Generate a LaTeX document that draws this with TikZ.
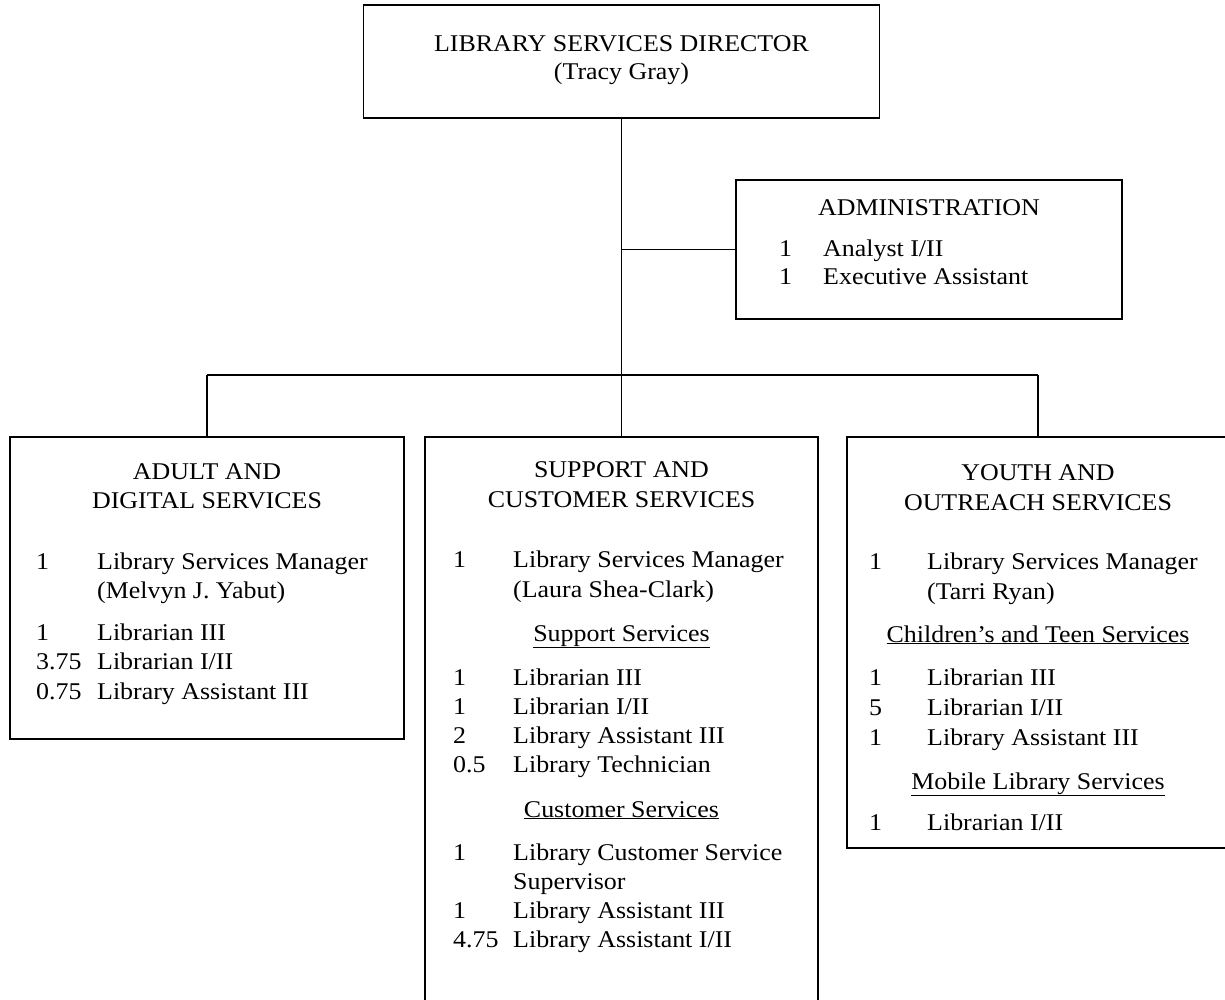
\documentclass[tikz,border=0pt]{standalone}
\usepackage{fontspec}
\setmainfont{Liberation Serif}[FakeStretch=1.08]
\begin{document}
\begin{tikzpicture}[x=1pt,y=-1pt,
  box/.style={draw,line width=1.1pt,inner sep=0pt,rectangle},
  conn/.style={line width=1.3pt},
  txt/.style={anchor=base west,inner sep=0pt,font=\fontsize{24}{29}\selectfont},
  ctr/.style={anchor=base,inner sep=0pt,font=\fontsize{24}{29}\selectfont}]
\useasboundingbox (0,0) rectangle (1225,1000);
\clip (0,0) rectangle (1225,1000);

% boxes
\node[box,minimum width=516pt,minimum height=113pt] (dir) at (621.5,61.5) {};
\node[box,minimum width=386pt,minimum height=139pt] (adm) at (929,249.5) {};
\node[box,minimum width=394pt,minimum height=302pt] (left) at (207,588) {};
\node[box,minimum width=393pt,minimum height=600pt] (mid) at (621.5,737) {};
\node[box,minimum width=393pt,minimum height=411pt] (right) at (1043.5,642.5) {};

% connectors
\coordinate (busL) at (207,375);
\coordinate (busM) at (621.5,375);
\coordinate (busR) at (1038,375);
\draw[conn] (dir.south) -- (busM);
\draw[conn] (dir.south |- adm.west) -- (adm.west);
\draw[conn] (busL) -- (busR);
\draw[conn] (busL) -- (left.north);
\draw[conn] (busM) -- (mid.north);
\draw[conn] (busR) -- (busR |- right.north);

% director
\node[ctr] (dt1) at (621.5,52) {LIBRARY SERVICES DIRECTOR};
\node[ctr] (dt2) at (621.5,80) {(Tracy Gray)};

% administration
\node[ctr] (at1) at (929,216) {ADMINISTRATION};
\node[txt] (an1) at (779,257) {1};
\node[txt] (ax1) at (823,257) {Analyst I/II};
\node[txt] (an2) at (779,284) {1};
\node[txt] (ax2) at (823,284) {Executive Assistant};

% adult and digital
\node[ctr] (lt1) at (207,479) {ADULT AND};
\node[ctr] (lt2) at (207,508) {DIGITAL SERVICES};
\node[txt] (ln1) at (36,569) {1};
\node[txt] (lx1) at (97,569) {Library Services Manager};
\node[txt] (lx1b) at (97,598) {(Melvyn J. Yabut)};
\node[txt] (ln2) at (36,640) {1};
\node[txt] (lx2) at (97,640) {Librarian III};
\node[txt] (ln3) at (36,669) {3.75};
\node[txt] (lx3) at (97,669) {Librarian I/II};
\node[txt] (ln4) at (36,699) {0.75};
\node[txt] (lx4) at (97,699) {Library Assistant III};

% support and customer
\node[ctr] (mt1) at (621.5,477) {SUPPORT AND};
\node[ctr] (mt2) at (621.5,507) {CUSTOMER SERVICES};
\node[txt] (mn1) at (453,567) {1};
\node[txt] (mx1) at (513,567) {Library Services Manager};
\node[txt] (mx1b) at (513,597) {(Laura Shea-Clark)};
\node[ctr] (mh1) at (621.5,641) {\underline{Support Services}};
\node[txt] (mn2) at (453,685) {1};
\node[txt] (mx2) at (513,685) {Librarian III};
\node[txt] (mn3) at (453,714) {1};
\node[txt] (mx3) at (513,714) {Librarian I/II};
\node[txt] (mn4) at (453,743) {2};
\node[txt] (mx4) at (513,743) {Library Assistant III};
\node[txt] (mn5) at (453,772) {0.5};
\node[txt] (mx5) at (513,772) {Library Technician};
\node[ctr] (mh2) at (621.5,817) {\underline{Customer Services}};
\node[txt] (mn6) at (453,860) {1};
\node[txt] (mx6) at (513,860) {Library Customer Service};
\node[txt] (mx6b) at (513,889) {Supervisor};
\node[txt] (mn7) at (453,918) {1};
\node[txt] (mx7) at (513,918) {Library Assistant III};
\node[txt] (mn8) at (453,947) {4.75};
\node[txt] (mx8) at (513,947) {Library Assistant I/II};

% youth and outreach
\node[ctr] (rt1) at (1038,480) {YOUTH AND};
\node[ctr] (rt2) at (1038,510) {OUTREACH SERVICES};
\node[txt] (rn1) at (869,569) {1};
\node[txt] (rx1) at (927,569) {Library Services Manager};
\node[txt] (rx1b) at (927,599) {(Tarri Ryan)};
\node[ctr] (rh1) at (1038,642) {\underline{Children’s and Teen Services}};
\node[txt] (rn2) at (869,685) {1};
\node[txt] (rx2) at (927,685) {Librarian III};
\node[txt] (rn3) at (869,715) {5};
\node[txt] (rx3) at (927,715) {Librarian I/II};
\node[txt] (rn4) at (869,745) {1};
\node[txt] (rx4) at (927,745) {Library Assistant III};
\node[ctr] (rh2) at (1038,789) {\underline{Mobile Library Services}};
\node[txt] (rn5) at (869,830) {1};
\node[txt] (rx5) at (927,830) {Librarian I/II};
\end{tikzpicture}
\end{document}
